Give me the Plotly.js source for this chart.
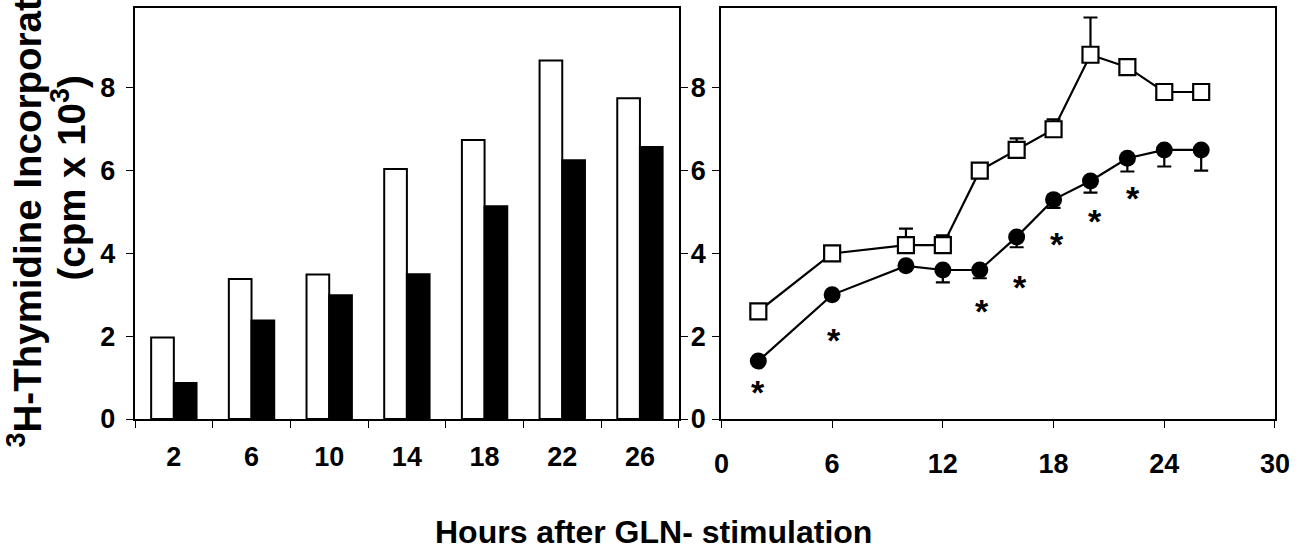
<!DOCTYPE html>
<html>
<head>
<meta charset="utf-8">
<script src="https://cdn.plot.ly/plotly-3.0.1.min.js"></script>
<style>html,body{margin:0;padding:0;background:#fff;}#chart{width:1308px;height:553px;}</style>
</head>
<body>
<div id="chart"></div>
<script>
// Left panel: bar chart
const barHours = ["2", "6", "10", "14", "18", "22", "26"];
const barControl = [1.97, 3.38, 3.49, 6.04, 6.74, 8.66, 7.75];
const barTreated = [0.87, 2.38, 2.99, 3.50, 5.14, 6.25, 6.57];

// Right panel: time course
const lineHours = [2, 6, 10, 12, 14, 16, 18, 20, 22, 24, 26];
const squareValues = [2.6, 4.0, 4.2, 4.2, 6.0, 6.5, 7.0, 8.8, 8.5, 7.9, 7.9];
const squareErrPlus = [0, 0, 0.4, 0.24, 0, 0.28, 0.24, 0.9, 0, 0, 0];
const circleValues = [1.4, 3.0, 3.7, 3.6, 3.6, 4.4, 5.3, 5.75, 6.3, 6.5, 6.5];
const circleErrMinus = [0, 0, 0, 0.3, 0.2, 0.25, 0.2, 0.28, 0.32, 0.4, 0.5];

// Significance asterisks
const starHours = [1.98, 6.1, 14.14, 16.16, 18.18, 20.22, 22.3];
const starValues = [0.76, 2.01, 2.70, 3.28, 4.33, 4.88, 5.44];

// Ticks
const yTicks = [0, 2, 4, 6, 8];
const x2Ticks = [0, 6, 12, 18, 24, 30];

const FONT = "Liberation Sans, Arial, Helvetica, sans-serif";
const zeros = arr => arr.map(() => 0);

const traces = [
  {
    type: "bar", x: barHours, y: barControl, xaxis: "x", yaxis: "y",
    marker: {color: "#ffffff", line: {color: "#000000", width: 2}},
    hoverinfo: "skip"
  },
  {
    type: "bar", x: barHours, y: barTreated, xaxis: "x", yaxis: "y",
    marker: {color: "#000000", line: {color: "#000000", width: 2}},
    hoverinfo: "skip"
  },
  {
    type: "scatter", mode: "lines+markers", x: lineHours, y: squareValues,
    xaxis: "x2", yaxis: "y2",
    line: {color: "#000000", width: 2.2},
    marker: {symbol: "square", size: 16, color: "#ffffff", line: {color: "#000000", width: 2.2}},
    error_y: {type: "data", symmetric: false, array: squareErrPlus, arrayminus: zeros(squareErrPlus),
              color: "#000000", thickness: 2.2, width: 7},
    hoverinfo: "skip"
  },
  {
    type: "scatter", mode: "lines+markers", x: lineHours, y: circleValues,
    xaxis: "x2", yaxis: "y2",
    line: {color: "#000000", width: 2.2},
    marker: {symbol: "circle", size: 17, color: "#000000", line: {color: "#000000", width: 0}},
    error_y: {type: "data", symmetric: false, array: zeros(circleErrMinus), arrayminus: circleErrMinus,
              color: "#000000", thickness: 2.2, width: 7},
    hoverinfo: "skip"
  }
];

const axisCommon = {
  showline: true, linecolor: "#000000", linewidth: 2.2,
  ticks: "outside", ticklen: 7, tickwidth: 1, tickcolor: "#000000",
  showgrid: false, zeroline: false,
  tickfont: {family: FONT, size: 27, color: "#000000", weight: "bold"}
};

const starAnnotations = starHours.map((h, i) => ({
  xref: "x2", yref: "y2", x: h, y: starValues[i],
  xanchor: "center", yanchor: "middle", showarrow: false, yshift: -4,
  text: "*",
  font: {family: FONT, size: 34, color: "#000000", weight: "bold"}
}));

const layout = {
  width: 1308, height: 553,
  margin: {l: 135, r: 32.5, t: 7.5, b: 133.5},
  paper_bgcolor: "#ffffff", plot_bgcolor: "#ffffff",
  showlegend: false,
  barmode: "group", bargap: 0.416, bargroupgap: 0,
  font: {family: FONT, color: "#000000"},
  xaxis: Object.assign({}, axisCommon, {
    domain: [0, 0.477], anchor: "y", type: "category",
    tickson: "boundaries", mirror: true, ticklabelstandoff: 12
  }),
  yaxis: Object.assign({}, axisCommon, {
    domain: [0, 1], anchor: "x", range: [0, 9.93],
    tickmode: "array", tickvals: yTicks, mirror: "ticks", ticklabelstandoff: 5
  }),
  xaxis2: Object.assign({}, axisCommon, {
    domain: [0.5144, 1], anchor: "y2", range: [0, 30],
    tickmode: "array", tickvals: x2Ticks, mirror: true, ticklabelstandoff: 12
  }),
  yaxis2: Object.assign({}, axisCommon, {
    domain: [0, 1], anchor: "x2", range: [0, 9.93],
    tickmode: "array", tickvals: yTicks, mirror: true, ticklabelstandoff: 1
  }),
  annotations: [
    {
      xref: "paper", yref: "paper", x: -0.0968, y: 0.548,
      xanchor: "center", yanchor: "middle", textangle: -90, showarrow: false,
      text: "<sup>3</sup>H-Thymidine Incorporation",
      font: {family: FONT, size: 38.5, color: "#000000", weight: "bold"}
    },
    {
      xref: "paper", yref: "paper", x: -0.0575, y: 0.586,
      xanchor: "center", yanchor: "middle", textangle: -90, showarrow: false,
      text: "(cpm x 10<sup>3</sup>)",
      font: {family: FONT, size: 38.5, color: "#000000", weight: "bold"}
    },
    {
      xref: "paper", yref: "paper", x: 0.455, y: -0.2755,
      xanchor: "center", yanchor: "middle", showarrow: false,
      text: "Hours after GLN- stimulation",
      font: {family: FONT, size: 32, color: "#000000", weight: "bold"}
    }
  ].concat(starAnnotations)
};

Plotly.newPlot("chart", traces, layout, {staticPlot: true, displayModeBar: false});
</script>
</body>
</html>
